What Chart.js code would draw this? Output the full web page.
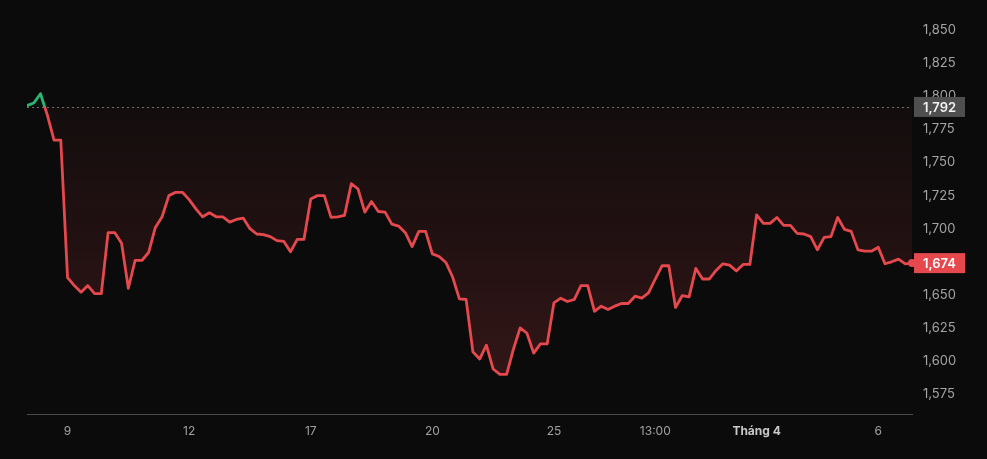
<!DOCTYPE html>
<html>
<head>
<meta charset="utf-8">
<script src="https://cdn.jsdelivr.net/npm/chart.js@4/dist/chart.umd.min.js"></script>
<style>
    html, body { margin: 0; padding: 0; background: #0b0b0b; }
    canvas { display: block; }
</style>
</head>
<body>
<canvas id="priceChart" width="987" height="459"></canvas>
<script>
// previous close (dotted reference line)
const prevClose = 1792;

// price points, oldest first
const price = [
    1793, 1795, 1802, 1786, 1767, 1767, 1663, 1657, 1652, 1657, 1651, 1651,
    1697, 1697, 1689, 1655, 1676, 1676, 1682, 1701, 1709, 1725, 1727.5, 1727.5,
    1722, 1715, 1709, 1712, 1709, 1709, 1705, 1707, 1708, 1700, 1696, 1695.5,
    1694, 1691, 1690.5, 1682.5, 1692, 1692, 1722.5, 1725, 1725, 1708.5, 1709, 1710,
    1734, 1730, 1712.5, 1720.5, 1713, 1712.5, 1703.5, 1702, 1697, 1686.5, 1698, 1698,
    1681, 1679, 1674.5, 1663.5, 1647, 1646.5, 1607, 1601.5, 1612, 1594, 1590, 1590,
    1609, 1625, 1621, 1606, 1613, 1613, 1644, 1647.5, 1645, 1646.5, 1657, 1657,
    1637.5, 1641.5, 1639, 1641.5, 1643.5, 1643.5, 1649, 1647.5, 1651.5, 1662, 1672, 1672,
    1640.5, 1649.5, 1648.5, 1670, 1662, 1662, 1668.5, 1673.5, 1672.5, 1668, 1673, 1673,
    1710.5, 1704, 1704, 1708.5, 1702.5, 1702.5, 1696.5, 1696, 1694, 1684, 1693.5, 1694,
    1708.5, 1699.5, 1698, 1684, 1683, 1683, 1686, 1673.5, 1675, 1677, 1673.5, 1674
];

// x axis tick labels and the point index each sits on
const tickIdx = [6, 24, 42, 60, 78, 93, 108, 126];
const tickText = ["9", "12", "17", "20", "25", "13:00", "Tháng 4", "6"];
const boldTick = "Tháng 4";

const yMin = 1560;
const yMax = 1858.6;

const RED = "#e5484d";
const GREEN = "#2bb673";
const FONT = "Inter, 'Noto Sans', sans-serif";

function splitGradient(chart, above, below) {
    const area = chart.chartArea;
    if (!area) return below;
    const c = chart.ctx;
    const yb = chart.scales.y.getPixelForValue(prevClose);
    const stop = Math.min(1, Math.max(0, (yb - area.top) / (area.bottom - area.top)));
    const g = c.createLinearGradient(0, area.top, 0, area.bottom);
    g.addColorStop(0, above[0]);
    g.addColorStop(stop, above[1]);
    g.addColorStop(stop, below[0]);
    g.addColorStop(1, below[1]);
    return g;
}

function fmt(v) {
    return Math.round(v).toLocaleString("en-US");
}

const markers = {
    id: "markers",
    beforeDatasetsDraw(chart) {
        const c = chart.ctx;
        const area = chart.chartArea;
        const y = chart.scales.y.getPixelForValue(prevClose);
        c.save();
        c.strokeStyle = "#6e6e6e";
        c.lineWidth = 1;
        c.setLineDash([2, 3]);
        c.beginPath();
        c.moveTo(area.left, Math.round(y) + 0.5);
        c.lineTo(area.right, Math.round(y) + 0.5);
        c.stroke();
        c.restore();
    },
    afterDatasetsDraw(chart) {
        const c = chart.ctx;
        const area = chart.chartArea;
        const meta = chart.getDatasetMeta(0);
        const last = meta.data[meta.data.length - 1];
        const lastVal = price[price.length - 1];

        c.save();
        c.fillStyle = RED;
        c.beginPath();
        c.arc(last.x, last.y, 4, 0, Math.PI * 2);
        c.fill();

        function box(value, bg, fg) {
            const y = chart.scales.y.getPixelForValue(value);
            c.fillStyle = bg;
            c.fillRect(area.right + 2, y - 10, 51, 20);
            c.fillStyle = fg;
            c.font = "600 13px " + FONT;
            c.textAlign = "left";
            c.textBaseline = "middle";
            c.fillText(fmt(value), area.right + 11, y + 1);
        }
        box(prevClose, "#4f4f4f", "#f0f0f0");
        box(lastVal, RED, "#ffffff");
        c.restore();
    }
};

new Chart(document.getElementById("priceChart"), {
    type: "line",
    data: {
        datasets: [{
            data: price.map((v, i) => ({ x: i, y: v })),
            borderWidth: 2.8,
            borderJoinStyle: "round",
            borderCapStyle: "round",
            pointRadius: 0,
            tension: 0,
            borderColor: ctx => splitGradient(ctx.chart, [GREEN, GREEN], [RED, RED]),
            backgroundColor: ctx => splitGradient(ctx.chart,
                ["rgba(43,182,115,0.10)", "rgba(43,182,115,0.04)"],
                ["rgba(229,72,77,0.04)", "rgba(229,72,77,0.20)"]),
            fill: { value: prevClose }
        }]
    },
    options: {
        responsive: false,
        animation: false,
        layout: { padding: { left: 27, top: 2, right: 0, bottom: 0 } },
        plugins: {
            legend: { display: false },
            tooltip: { enabled: false }
        },
        scales: {
            x: {
                type: "linear",
                min: 0,
                max: price.length - 1,
                grid: { display: false, drawTicks: false },
                border: { display: true, color: "#4a4a4a", width: 1 },
                afterFit: scale => { scale.height = 45; },
                afterBuildTicks: scale => {
                    scale.ticks = tickIdx.map(v => ({ value: v }));
                },
                ticks: {
                    autoSkip: false,
                    maxRotation: 0,
                    padding: 10,
                    color: ctx => tickText[ctx.index] === boldTick ? "#c8c8c8" : "#a0a0a0",
                    font: ctx => ({
                        family: FONT,
                        size: 12,
                        weight: tickText[ctx.index] === boldTick ? "bold" : "normal"
                    }),
                    callback: v => tickText[tickIdx.indexOf(v)]
                }
            },
            y: {
                position: "right",
                min: yMin,
                max: yMax,
                grid: { display: false, drawTicks: false },
                border: { display: false },
                afterFit: scale => { scale.width = 75; },
                ticks: {
                    stepSize: 25,
                    includeBounds: false,
                    padding: 11,
                    color: "#a4a4a4",
                    font: { family: FONT, size: 13 },
                    callback: v => fmt(v)
                }
            }
        }
    },
    plugins: [markers]
});
</script>
</body>
</html>
